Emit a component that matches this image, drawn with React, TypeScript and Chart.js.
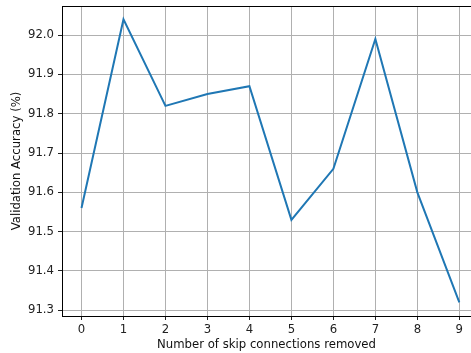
import React, { useEffect, useRef } from "react";
import { Chart, registerables } from "chart.js";

Chart.register(...registerables);

const xValues = [0, 1, 2, 3, 4, 5, 6, 7, 8, 9];
const accuracy = [91.56, 92.04, 91.82, 91.85, 91.87, 91.53, 91.66, 91.99, 91.6, 91.32];
const xTicks = [0, 1, 2, 3, 4, 5, 6, 7, 8, 9];
const yTicks = [91.3, 91.4, 91.5, 91.6, 91.7, 91.8, 91.9, 92.0];

const FONT = "'DejaVu Sans', sans-serif";
const FS = 11.7;

const topSpine = {
  id: "topSpine",
  afterDraw(chart: any) {
    const { ctx, chartArea } = chart;
    ctx.save();
    ctx.strokeStyle = "#000";
    ctx.lineWidth = 1;
    ctx.beginPath();
    ctx.moveTo(chartArea.left, chartArea.top + 0.5);
    ctx.lineTo(chartArea.right, chartArea.top + 0.5);
    ctx.stroke();
    ctx.restore();
  },
};

export default function App() {
  const ref = useRef<HTMLCanvasElement>(null);
  useEffect(() => {
    document.body.style.margin = "0";
    const chart = new Chart(ref.current!, {
      type: "scatter",
      data: {
        datasets: [
          {
            data: xValues.map((x, i) => ({ x, y: accuracy[i] })),
            showLine: true,
            borderColor: "#1f77b4",
            borderWidth: 2,
            pointRadius: 0,
            tension: 0,
          },
        ],
      },
      options: {
        animation: false,
        responsive: false,
        layout: { padding: { top: 6, left: 0, right: 0, bottom: 0 } },
        plugins: { legend: { display: false }, tooltip: { enabled: false } },
        scales: {
          x: {
            type: "linear",
            min: -0.4645,
            max: 9.278,
            afterBuildTicks: (axis: any) => {
              axis.ticks = xTicks.map((v) => ({ value: v }));
            },
            afterFit: (axis: any) => {
              axis.height = 37;
              axis.paddingLeft = 0;
              axis.paddingRight = 0;
            },
            ticks: {
              color: "#222",
              font: { family: FONT, size: FS },
              padding: 3,
              maxRotation: 0,
              callback: (v: any) => String(v),
            },
            grid: { color: "#b0b0b0", lineWidth: 1, tickColor: "#222", tickLength: 4 },
            border: { color: "#000", width: 1 },
            title: {
              display: true,
              text: "Number of skip connections removed",
              color: "#111",
              font: { family: FONT, size: FS },
              padding: { top: 0, bottom: 1 },
            },
          },
          y: {
            type: "linear",
            min: 91.2855,
            max: 92.074,
            afterBuildTicks: (axis: any) => {
              axis.ticks = yTicks.map((v) => ({ value: v }));
            },
            afterFit: (axis: any) => {
              axis.width = 62;
              axis.paddingTop = 0;
              axis.paddingBottom = 0;
            },
            ticks: {
              color: "#222",
              font: { family: FONT, size: FS },
              padding: 4,
              callback: (v: any) => Number(v).toFixed(1),
            },
            grid: { color: "#b0b0b0", lineWidth: 1, tickColor: "#222", tickLength: 4 },
            border: { color: "#000", width: 1 },
            title: {
              display: true,
              text: "Validation Accuracy (%)",
              color: "#111",
              font: { family: FONT, size: FS },
              padding: { top: 10, bottom: 0 },
            },
          },
        },
      },
      plugins: [topSpine],
    });
    return () => chart.destroy();
  }, []);
  return (
    <div style={{ width: 471, height: 353 }}>
      <canvas ref={ref} width={471} height={353} />
    </div>
  );
}
